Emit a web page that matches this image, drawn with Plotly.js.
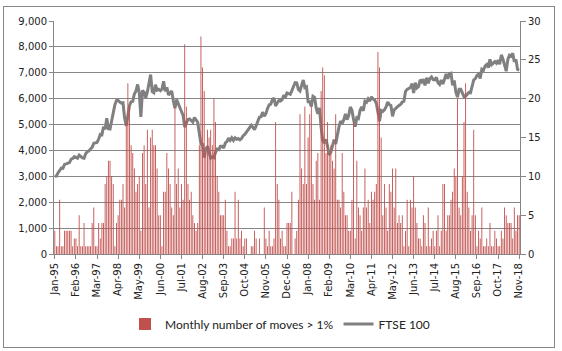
<!DOCTYPE html>
<html><head><meta charset="utf-8">
<script src="https://cdn.plot.ly/plotly-3.0.1.min.js"></script>
<style>
html,body{margin:0;padding:0;background:#fff;overflow:hidden}
#chart{position:absolute;left:0;top:0;width:562px;height:351px}
#frame{position:absolute;left:3px;top:6px;width:550px;height:340px;border:1px solid #868686;pointer-events:none}
</style></head><body>
<div id="chart"></div><div id="frame"></div>
<script>
// Category labels (months Jan-95 .. Nov-18)
const monthNames = ['Jan','Feb','Mar','Apr','May','Jun','Jul','Aug','Sep','Oct','Nov','Dec'];
const months = [];
for (let y = 1995; y <= 2018; y++) {
  for (let m = 0; m < 12; m++) {
    if (y === 2018 && m > 10) break;
    months.push(monthNames[m] + '-' + String(y % 100).padStart(2, '0'));
  }
}
const tickLabels = ['Jan-95','Feb-96','Mar-97','Apr-98','May-99','Jun-00','Jul-01','Aug-02','Sep-03','Oct-04','Nov-05','Dec-06','Jan-08','Feb-09','Mar-10','Apr-11','May-12','Jun-13','Jul-14','Aug-15','Sep-16','Oct-17','Nov-18'];

// Monthly number of moves > 1% (right axis)
const moves1995_1999 = [
  3,1,1,7,1,1,3,3,3,3,3,1,
  2,2,1,5,1,1,4,1,1,1,1,4,
  6,1,1,4,2,4,4,9,10,12,12,10,
  9,1,4,5,7,7,9,6,17,22,19,14,
  13,11,8,9,10,3,13,14,9,16,6,15];
const moves2000_2004 = [
  16,14,14,11,5,5,1,8,8,13,11,9,
  6,5,19,9,11,6,9,7,27,19,9,7,
  8,5,4,3,4,14,28,24,21,13,16,15,
  16,14,20,17,10,8,5,5,5,7,3,1,
  1,2,2,8,2,7,2,3,1,2,2,0];
const moves2005_2009 = [
  0,1,1,3,2,0,2,0,0,6,2,1,
  3,1,1,2,17,9,7,2,3,1,1,4,
  4,4,8,0,2,3,7,18,11,9,19,9,
  15,18,19,9,7,12,13,7,21,24,23,13,
  17,13,14,12,11,18,7,7,6,13,8,5];
const moves2010_2014 = [
  5,3,3,7,17,2,12,6,5,3,6,11,
  6,7,4,8,7,8,9,26,24,15,5,9,
  6,3,9,8,11,6,11,4,5,4,5,1,
  3,7,1,7,6,10,6,4,2,2,1,5,
  4,1,6,1,2,3,1,3,5,1,3,9];
const moves2015_2018 = [
  9,3,5,5,7,8,11,10,20,6,5,10,
  17,22,8,6,3,5,16,5,1,3,2,6,
  1,1,2,1,4,1,1,3,2,1,1,3,
  2,6,5,4,4,4,2,6,3,5,5];

// FTSE 100 (left axis)
const ftse1995_1999 = [
  3000,3010,3140,3220,3320,3310,3460,3480,3510,3530,3660,3690,
  3760,3730,3700,3820,3750,3710,3700,3870,3950,3980,4060,4120,
  4280,4310,4310,4440,4620,4600,4910,4820,5240,4840,4830,5140,
  5460,5770,5930,5930,5870,5830,5840,5250,4950,5440,5740,5880,
  5900,6180,6300,6550,6230,5300,6320,6250,6030,6260,6600,6930];
const ftse2000_2004 = [
  6270,6230,6540,6330,6360,6310,6370,6670,6290,6440,6140,6220,
  6300,5920,5630,5970,5800,5640,5530,5350,4900,5040,5200,5220,
  5160,5100,5270,5170,5090,4660,4250,4230,3720,4040,4170,3940,
  3700,3750,3720,3930,4050,4030,4160,4160,4090,4290,4340,4480,
  4390,4490,4390,4490,4430,4460,4410,4460,4570,4620,4700,4810];
const ftse2005_2009 = [
  4850,4970,4890,4800,4960,5110,5280,5300,5480,5320,5420,5620,
  5760,5790,5960,6020,5720,5830,5930,5910,5960,6130,6050,6220,
  6200,6170,6310,6450,6620,6610,6360,6300,6470,6720,6430,6460,
  5880,5880,5700,6090,6050,5630,5410,5640,4900,4380,4290,4430,
  4150,3830,3930,4240,4420,4250,4610,4910,5130,5040,5190,5410];
const ftse2010_2014 = [
  5190,5350,5680,5550,5190,4920,5260,5230,5550,5680,5530,5900,
  5860,5990,5910,6070,5990,5950,5820,5390,5130,5540,5510,5570,
  5680,5870,5770,5740,5320,5570,5640,5710,5740,5780,5870,5900,
  6280,6360,6410,6430,6580,6220,6620,6410,6460,6730,6650,6750,
  6510,6810,6600,6780,6840,6740,6730,6820,6620,6550,6720,6570];
const ftse2015_2018 = [
  6750,6950,6770,6960,6980,6520,6700,6250,6060,6360,6360,6240,
  6080,6100,6170,6240,6230,6500,6720,6780,6900,6950,6780,7140,
  7100,7260,7320,7200,7520,7310,7370,7430,7370,7490,7330,7690,
  7530,7230,7060,7510,7680,7640,7750,7430,7510,7130,7100];

const moves = [].concat(moves1995_1999, moves2000_2004, moves2005_2009, moves2010_2014, moves2015_2018);
const ftse = [].concat(ftse1995_1999, ftse2000_2004, ftse2005_2009, ftse2010_2014, ftse2015_2018);

const axisGrey = '#868686';
const tickFont = {family: 'DejaVu Sans, Verdana, sans-serif', size: 10, color: '#222'};

const traces = [
  {type: 'bar', x: months, y: moves, yaxis: 'y2', name: 'Monthly number of moves > 1%',
   marker: {color: '#c0504d', line: {width: 0}}},
  {type: 'scatter', mode: 'lines', x: months, y: ftse, yaxis: 'y', name: 'FTSE 100',
   line: {color: '#808080', width: 3}}
];

const layout = {
  width: 562, height: 351,
  margin: {l: 54, r: 42, t: 21, b: 93, pad: 0},
  paper_bgcolor: '#fff', plot_bgcolor: '#fff',
  bargap: 0.45,
  showlegend: true,
  legend: {orientation: 'h', x: 0.485, xanchor: 'center', y: -0.3, yanchor: 'middle',
           font: {family: 'Lato, sans-serif', size: 12, color: '#222'}, traceorder: 'normal',
           itemwidth: 30},
  xaxis: {type: 'category', range: [-0.5, 286.5], tickmode: 'array', tickvals: tickLabels, ticktext: tickLabels,
          tickangle: -90, ticks: 'outside', ticklen: 4, tickcolor: axisGrey, showline: true, linecolor: axisGrey,
          showgrid: false, zeroline: false, tickfont: tickFont, fixedrange: true},
  yaxis: {range: [0, 9000], dtick: 1000, tickformat: ',d', showgrid: true, gridcolor: axisGrey, gridwidth: 1,
          showline: true, linecolor: axisGrey, ticks: 'outside', ticklen: 4, tickcolor: axisGrey,
          zeroline: false, tickfont: tickFont, fixedrange: true},
  yaxis2: {overlaying: 'y', side: 'right', range: [0, 30], dtick: 5, showgrid: false, showline: true,
           linecolor: axisGrey, ticks: 'outside', ticklen: 5, tickcolor: axisGrey, zeroline: false,
           tickfont: tickFont, fixedrange: true}
};

Plotly.newPlot('chart', traces, layout, {staticPlot: true, displayModeBar: false});
</script></body></html>
